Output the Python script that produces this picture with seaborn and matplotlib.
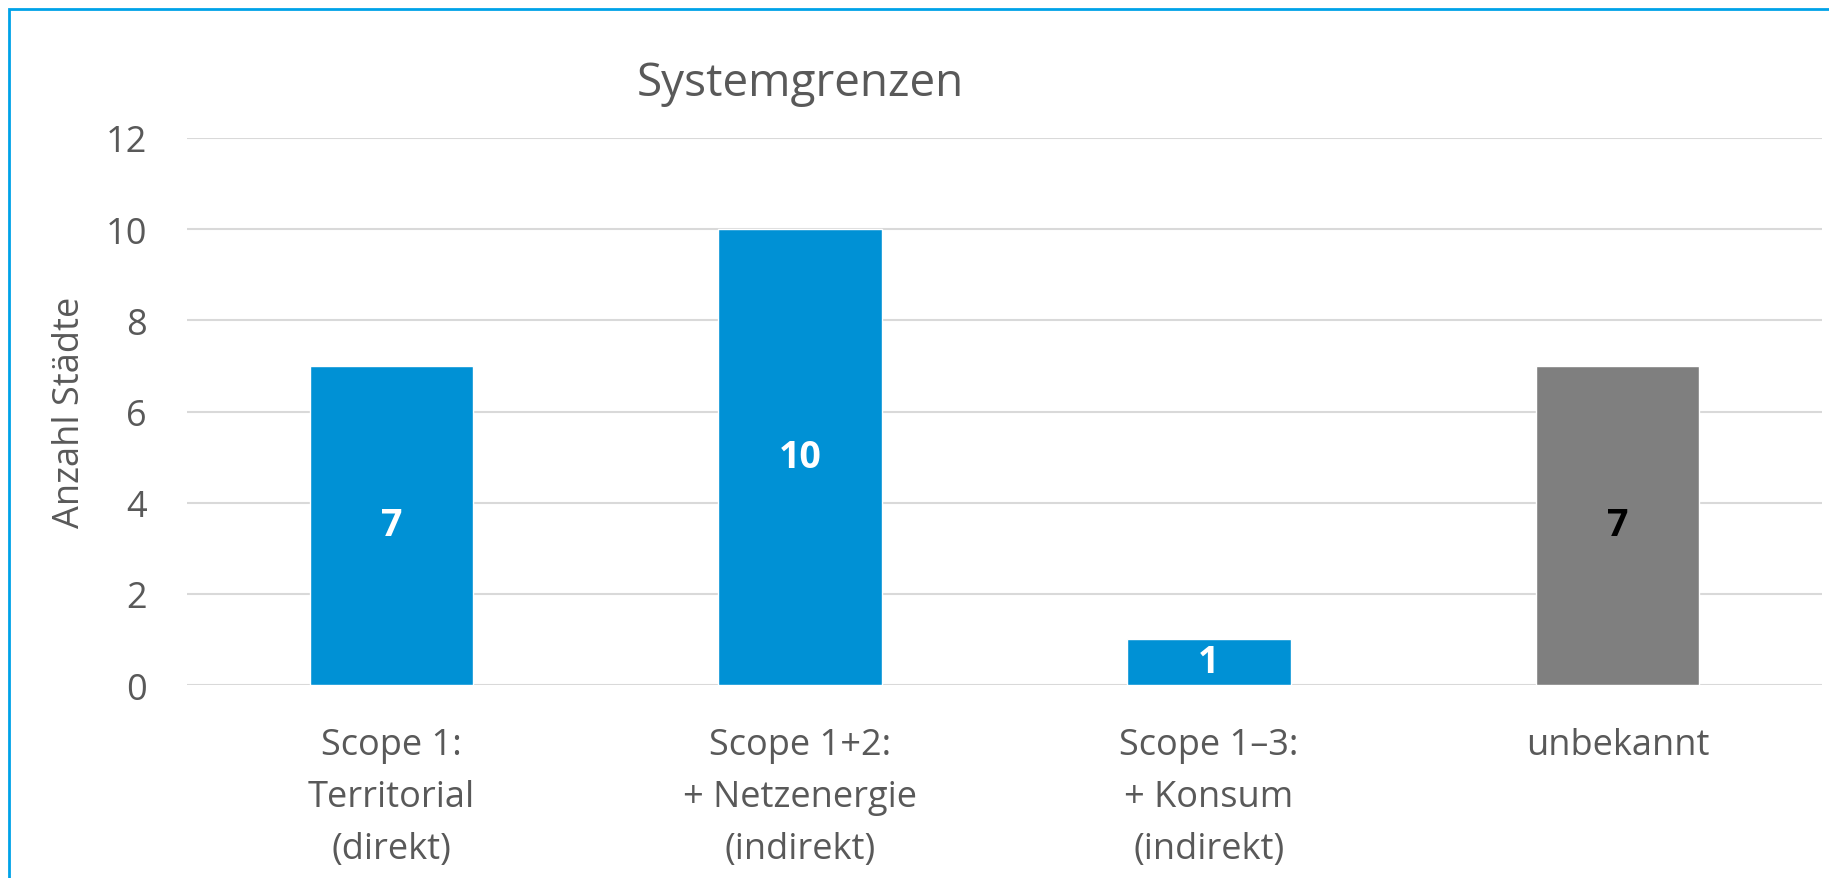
import pandas as pd
import matplotlib.pyplot as plt
import seaborn as sns
from matplotlib.patches import Rectangle

# data
categories = ['Scope 1:\nTerritorial\n(direkt)', 'Scope 1+2:\n+ Netzenergie\n(indirekt)',
              'Scope 1–3:\n+ Konsum\n(indirekt)', 'unbekannt']
counts = [7, 10, 1, 7]
bar_colors = ['#0091D5', '#0091D5', '#0091D5', '#7F7F7F']
label_colors = ['white', 'white', 'white', 'black']

df = pd.DataFrame({'Kategorie': categories, 'Anzahl': counts})

sns.set_theme(style='white')
plt.rcParams['font.family'] = ['Open Sans', 'DejaVu Sans']

fig = plt.figure(figsize=(18.29, 8.79), dpi=100)
ax = fig.add_axes([187/1829, 1 - 686/879, (1822 - 187)/1829, (686 - 139)/879])

sns.barplot(data=df, x='Kategorie', y='Anzahl', hue='Kategorie', palette=bar_colors,
            width=0.4, legend=False, ax=ax, saturation=1, zorder=3)

ax.set_ylim(0, 12)
ax.set_yticks(range(0, 13, 2))
ax.grid(axis='y', color='#D9D9D9', linewidth=1.5, zorder=0)
ax.set_axisbelow(True)
sns.despine(ax=ax, left=True, bottom=True)
ax.tick_params(axis='both', length=0, labelsize=26, colors='#595959')
ax.tick_params(axis='x', pad=30)
ax.tick_params(axis='y', pad=29)
for t in ax.get_xticklabels():
    t.set_linespacing(1.6)
ax.set_xlabel('')
ax.set_ylabel('Anzahl Städte', fontsize=26, color='#595959', va='center')
ax.yaxis.set_label_coords((70 - 187) / 1635, 0.5)

# value labels in the middle of each bar
for i, (v, c) in enumerate(zip(counts, label_colors)):
    ax.text(i, v / 2, str(v), ha='center', va='center', fontsize=27,
            fontweight='bold', color=c, zorder=4)

fig.text(800/1829, 1 - 84/879, 'Systemgrenzen', ha='center', va='center',
         fontsize=33, color='#595959')

# chart frame
fig.patches.append(Rectangle((9/1829, -0.05), 1.1, 1 - 10/879 + 0.05, transform=fig.transFigure,
                             fill=False, edgecolor='#00A2E8', linewidth=2))

fig.savefig('out.png', dpi=100)
